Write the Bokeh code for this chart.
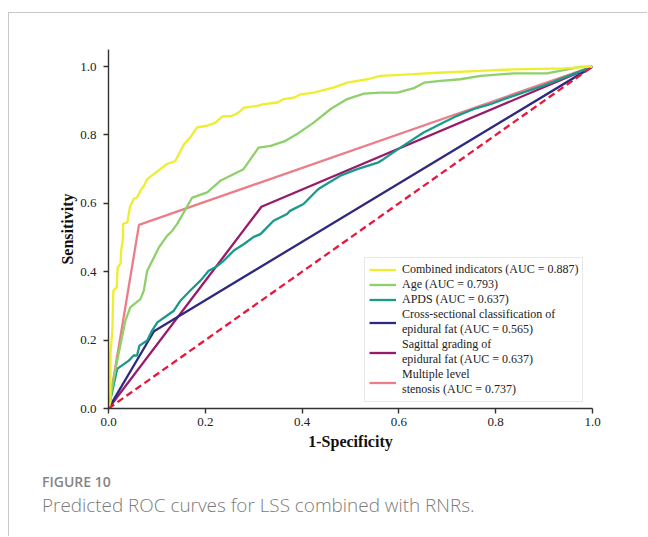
from bokeh.plotting import figure
from bokeh.models import Range1d, Legend, LegendItem, FixedTicker, Div
from bokeh.layouts import column
from bokeh.embed import file_html
from bokeh.resources import INLINE

# ---- data ----
combined_fpr = [0.0, 0.004, 0.004, 0.008, 0.010, 0.017, 0.019, 0.025, 0.026, 0.030, 0.030, 0.039, 0.044,
                0.052, 0.059, 0.066, 0.073, 0.080, 0.094, 0.107, 0.121, 0.138, 0.149, 0.156, 0.169,
                0.183, 0.204, 0.221, 0.235, 0.256, 0.269, 0.280, 0.307, 0.321, 0.349, 0.362, 0.383,
                0.397, 0.424, 0.466, 0.493, 0.535, 0.562, 0.631, 0.679, 0.769, 0.837, 0.940, 0.996, 1.0]
combined_tpr = [0.0, 0.02, 0.16, 0.23, 0.345, 0.354, 0.413, 0.424, 0.46, 0.50, 0.54, 0.544, 0.588,
                0.613, 0.617, 0.637, 0.651, 0.671, 0.686, 0.700, 0.715, 0.724, 0.754, 0.773, 0.793,
                0.822, 0.827, 0.836, 0.854, 0.856, 0.866, 0.880, 0.885, 0.890, 0.895, 0.905, 0.909,
                0.919, 0.924, 0.939, 0.953, 0.963, 0.973, 0.978, 0.982, 0.9875, 0.992, 0.995, 1.0, 1.0]

age_fpr = [0.0, 0.014, 0.025, 0.035, 0.045, 0.066, 0.073, 0.080, 0.094, 0.104, 0.121, 0.132, 0.142,
           0.173, 0.204, 0.231, 0.279, 0.310, 0.335, 0.366, 0.393, 0.424, 0.459, 0.493, 0.528,
           0.562, 0.597, 0.631, 0.652, 0.686, 0.727, 0.769, 0.837, 0.906, 0.948, 0.975, 1.0]
age_tpr = [0.0, 0.111, 0.189, 0.257, 0.296, 0.320, 0.345, 0.403, 0.442, 0.471, 0.505, 0.520, 0.540,
           0.617, 0.632, 0.666, 0.700, 0.763, 0.768, 0.783, 0.806, 0.836, 0.876, 0.905, 0.921,
           0.924, 0.924, 0.937, 0.953, 0.958, 0.963, 0.973, 0.980, 0.980, 0.992, 0.999, 1.0]

apds_fpr = [0.0, 0.018, 0.028, 0.042, 0.052, 0.059, 0.064, 0.080, 0.090, 0.101, 0.121, 0.135, 0.149,
            0.169, 0.190, 0.207, 0.221, 0.238, 0.259, 0.280, 0.300, 0.314, 0.341, 0.369, 0.375,
            0.403, 0.430, 0.437, 0.479, 0.514, 0.558, 0.569, 0.603, 0.651, 0.686, 0.720, 0.755,
            0.789, 0.817, 0.900, 1.0]
apds_tpr = [0.0, 0.116, 0.126, 0.140, 0.155, 0.155, 0.184, 0.199, 0.228, 0.252, 0.272, 0.286, 0.316,
            0.345, 0.374, 0.403, 0.413, 0.432, 0.462, 0.481, 0.502, 0.510, 0.549, 0.569, 0.578,
            0.598, 0.637, 0.645, 0.681, 0.700, 0.720, 0.730, 0.763, 0.807, 0.832, 0.856, 0.876,
            0.890, 0.905, 0.945, 1.0]

cross_fpr = [0.0, 0.094, 1.0]
cross_tpr = [0.0, 0.226, 1.0]

sagittal_fpr = [0.0, 0.316, 1.0]
sagittal_tpr = [0.0, 0.590, 1.0]

stenosis_fpr = [0.0, 0.063, 1.0]
stenosis_tpr = [0.0, 0.537, 1.0]

ref_fpr = [0.0, 1.0]
ref_tpr = [0.0, 1.0]

labels = ["Combined indicators (AUC = 0.887)",
          "Age (AUC = 0.793)",
          "APDS (AUC = 0.637)",
          "Cross-sectional classification of\nepidural fat (AUC = 0.565)",
          "Sagittal grading of\nepidural fat (AUC = 0.637)",
          "Multiple level\nstenosis (AUC = 0.737)"]
colors = ["#eeee30", "#8fd06c", "#1a9a8a", "#2f2a80", "#9a1a6a", "#ec7d88"]
ticks = [0.0, 0.2, 0.4, 0.6, 0.8, 1.0]
tick_labels = {t: f"{t:.1f}" for t in ticks}
figure_label = "FIGURE 10"
caption = "Predicted ROC curves for LSS combined with RNRs."

SERIF = "Liberation Serif"
FRAME = "1px solid #c8c8c8"

p = figure(width=639, height=447, output_backend="svg", toolbar_location=None,
           x_range=Range1d(0, 1.0), y_range=Range1d(0, 1.05),
           min_border_left=99, min_border_right=56, min_border_top=36, min_border_bottom=52)
p.margin = (12, 0, 0, 8)
p.styles = {"border-top": FRAME, "border-left": FRAME}
p.outline_line_color = None
p.grid.visible = False
p.background_fill_color = "white"
p.border_fill_color = "white"

for ax in (p.xaxis[0], p.yaxis[0]):
    ax.ticker = FixedTicker(ticks=ticks)
    ax.major_label_overrides = tick_labels
    ax.minor_tick_line_color = None
    ax.major_tick_out = 5
    ax.major_tick_in = 0
    ax.axis_line_color = "#333333"
    ax.axis_line_width = 1.4
    ax.major_tick_line_color = "#333333"
    ax.major_tick_line_width = 1.4
    ax.major_label_text_font = SERIF
    ax.major_label_text_font_size = "13px"
    ax.major_label_text_color = "#222222"
    ax.axis_label_text_font = SERIF
    ax.axis_label_text_font_size = "16px"
    ax.axis_label_text_font_style = "bold"
    ax.axis_label_text_color = "#111111"

p.xaxis.major_label_standoff = 4
p.yaxis.major_label_standoff = 7
p.xaxis.axis_label = "1-Specificity"
p.yaxis.axis_label = "Sensitivity"
p.xaxis.axis_label_standoff = 4
p.yaxis.axis_label_standoff = 1

series = [(combined_fpr, combined_tpr), (age_fpr, age_tpr), (apds_fpr, apds_tpr),
          (cross_fpr, cross_tpr), (sagittal_fpr, sagittal_tpr), (stenosis_fpr, stenosis_tpr)]
items = []
rend = {}
for i in [5, 4, 3, 2, 1, 0]:
    fx, fy = series[i]
    rend[i] = p.line(fx, fy, line_color=colors[i], line_width=2.3)
p.line(ref_fpr, ref_tpr, line_color="#e8173b", line_width=2.3, line_dash="7 4")

for i in range(6):
    items.append(LegendItem(label=labels[i], renderers=[rend[i]]))

legend = Legend(items=items, location=(256, 6))
legend.label_text_font = SERIF
legend.label_text_font_size = "12px"
legend.label_text_color = "#222222"
legend.label_text_line_height = 1.0
legend.glyph_width = 27
legend.glyph_height = 13
legend.label_height = 13
legend.label_standoff = 6
legend.spacing = 0
legend.padding = 4
legend.margin = 0
legend.border_line_color = "#d0d0d0"
legend.border_line_width = 1
legend.background_fill_color = "white"
legend.background_fill_alpha = 1.0
p.add_layout(legend, "center")

cap_html = (
    f"<div style=\"margin:14px 0 0 33px;font-family:'Open Sans';font-size:14px;"
    f"font-weight:600;line-height:18px;color:#858585;white-space:nowrap\">{figure_label}</div>"
    f"<div style=\"margin:2px 0 0 33px;font-family:'Open Sans';font-size:18.9px;"
    f"font-weight:300;line-height:24px;color:#7a7a7a;white-space:nowrap\">{caption}</div>"
)
cap = Div(text=cap_html, width=638, height=77, margin=(0, 0, 0, 8),
          styles={"border-left": FRAME, "background-color": "white"})

layout = column(p, cap, spacing=0)
open("out.html", "w").write(file_html(layout, INLINE))
